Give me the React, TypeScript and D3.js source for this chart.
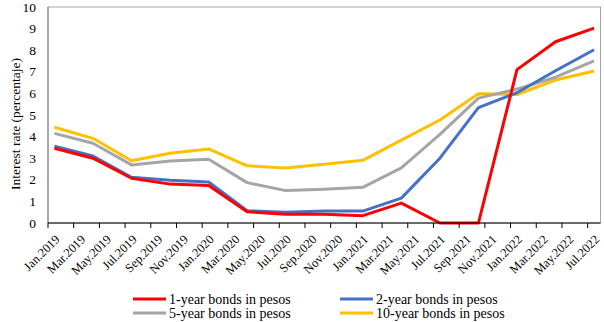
import React from "react";
import * as d3 from "d3";

const dates = ["Jan.2019","Apr.2019","Jul.2019","Oct.2019","Jan.2020","Apr.2020","Jul.2020","Oct.2020","Jan.2021","Apr.2021","Jul.2021","Oct.2021","Jan.2022","Apr.2022","Jul.2022"];
const bonds1 = [3.46, 3.0, 2.07, 1.8, 1.74, 0.52, 0.4, 0.4, 0.34, 0.92, 0.0, 0.0, 7.1, 8.39, 9.02];
const bonds2 = [3.56, 3.1, 2.12, 1.98, 1.9, 0.57, 0.5, 0.56, 0.55, 1.15, 3.0, 5.34, 6.03, 7.05, 8.02];
const bonds5 = [4.15, 3.69, 2.69, 2.87, 2.95, 1.87, 1.5, 1.56, 1.65, 2.55, 4.1, 5.78, 6.2, 6.75, 7.51];
const bonds10 = [4.43, 3.92, 2.88, 3.23, 3.43, 2.65, 2.55, 2.72, 2.9, 3.84, 4.77, 5.98, 5.95, 6.62, 7.04];
const tickLabels = ["Jan.2019","Mar.2019","May.2019","Jul.2019","Sep.2019","Nov.2019","Jan.2020","Mar.2020","May.2020","Jul.2020","Sep.2020","Nov.2020","Jan.2021","Mar.2021","May.2021","Jul.2021","Sep.2021","Nov.2021","Jan.2022","Mar.2022","May.2022","Jul.2022"];
const yTicks = [0,1,2,3,4,5,6,7,8,9,10];
const seriesNames = ["1-year bonds in pesos","2-year bonds in pesos","5-year bonds in pesos","10-year bonds in pesos"];
const seriesColors = ["#FF0000","#4472C4","#A5A5A5","#FFC000"];

const MONTHS = ["Jan","Feb","Mar","Apr","May","Jun","Jul","Aug","Sep","Oct","Nov","Dec"];
const monthIndex = (s: string) => {
  const [m, y] = s.split(".");
  return (parseInt(y) - 2019) * 12 + MONTHS.indexOf(m);
};

export default function App() {
  const W = 604, H = 322;
  const left = 48, right = 600.5, top = 7, bottom = 223;
  const x = d3.scaleLinear().domain([0, 43]).range([left, right]);
  const y = d3.scaleLinear().domain([0, 10]).range([bottom, top]);
  const font = "'Liberation Serif', 'Times New Roman', serif";
  const allSeries = [bonds1, bonds2, bonds5, bonds10];
  const line = d3.line<number>()
    .x((_, i) => x(monthIndex(dates[i]) + 0.5))
    .y((v) => y(v));
  const drawOrder = [3, 2, 1, 0];
  const legendPos = [
    { x: 133, y: 299 }, { x: 340, y: 299 },
    { x: 133, y: 313 }, { x: 340, y: 313 },
  ];
  return (
    <svg width={W} height={H} style={{ position: "absolute", left: 0, top: 0 }} fontFamily={font}>
      <rect x={0} y={0} width={W} height={H} fill="#fff" />
      <rect x={left} y={top} width={right - left} height={bottom - top} fill="none" stroke="#A6A6A6" strokeWidth={1} />
      {drawOrder.map((si) => (
        <path key={si} d={line(allSeries[si]) || ""} fill="none" stroke={seriesColors[si]} strokeWidth={3} strokeLinejoin="round" />
      ))}
      <line x1={left} x2={left} y1={top} y2={bottom} stroke="#7F7F7F" strokeWidth={1} />
      <line x1={left} x2={right} y1={bottom} y2={bottom} stroke="#000" strokeWidth={1.2} />
      {tickLabels.map((t) => {
        const m = monthIndex(t);
        return <line key={"t" + t} x1={x(m)} x2={x(m)} y1={bottom} y2={bottom + 5} stroke="#000" strokeWidth={1} />;
      })}
      {tickLabels.map((t) => {
        const cx = x(monthIndex(t) + 0.5);
        return (
          <text key={t} transform={`translate(${cx + 4},${bottom + 15}) rotate(-45)`} textAnchor="end" fontSize={12.5} dominantBaseline="middle" fill="#000">{t}</text>
        );
      })}
      {yTicks.map((v) => (
        <text key={v} x={36} y={y(v)} textAnchor="end" dominantBaseline="central" fontSize={13.5} fill="#000">{v}</text>
      ))}
      <text transform={`translate(15,${(top + bottom) / 2 + 9}) rotate(-90)`} textAnchor="middle" dominantBaseline="central" fontSize={13.5} fill="#000">Interest rate (percentaje)</text>
      {seriesNames.map((n, i) => (
        <g key={n}>
          <line x1={legendPos[i].x} x2={legendPos[i].x + 33} y1={legendPos[i].y} y2={legendPos[i].y} stroke={seriesColors[i]} strokeWidth={3} />
          <text x={legendPos[i].x + 36} y={legendPos[i].y} dominantBaseline="central" fontSize={14} fill="#000">{n}</text>
        </g>
      ))}
    </svg>
  );
}
